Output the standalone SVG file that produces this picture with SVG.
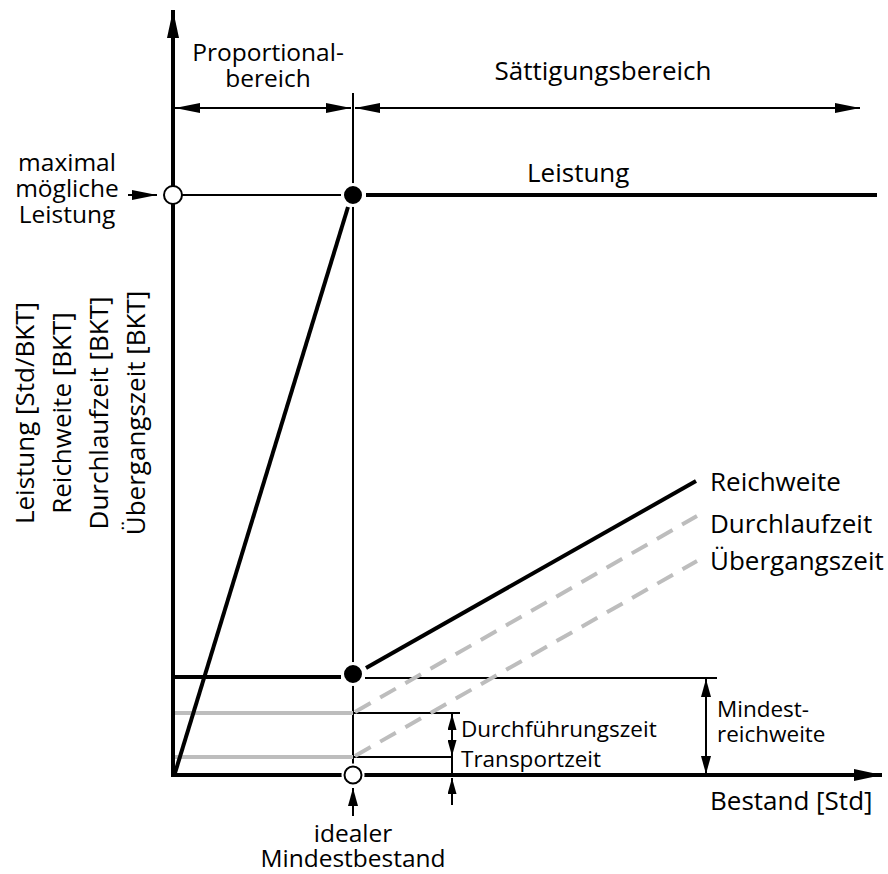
<svg xmlns="http://www.w3.org/2000/svg" width="888" height="874" viewBox="0 0 888 874">
<style>
text{font-family:"Open Sans","Noto Sans",sans-serif;fill:#000}
.big{font-size:26px}
.mid{font-size:24.5px}
.sm{font-size:22.5px}
.thin{stroke:#000;stroke-width:2;fill:none}
.thick{stroke:#000;stroke-width:4;fill:none}
.gray{stroke:#bdbdbd;stroke-width:4;fill:none}
.dash{stroke:#bdbdbd;stroke-width:4;fill:none;stroke-dasharray:18 11}
</style>
<defs>
<marker id="ax" markerUnits="userSpaceOnUse" viewBox="0 0 28 12" markerWidth="28" markerHeight="12" refX="28" refY="6" orient="auto-start-reverse"><path d="M0,0 L28,6 L0,12 z"/></marker>
<marker id="sl" markerUnits="userSpaceOnUse" viewBox="0 0 25 10" markerWidth="25" markerHeight="10" refX="25" refY="5" orient="auto-start-reverse"><path d="M0,0 L25,5 L0,10 z"/></marker>
<marker id="dm" markerUnits="userSpaceOnUse" viewBox="0 0 18 10" markerWidth="18" markerHeight="10" refX="18" refY="5" orient="auto-start-reverse"><path d="M0,0 L18,5 L0,10 z"/></marker>
<marker id="ds" markerUnits="userSpaceOnUse" viewBox="0 0 16 9" markerWidth="16" markerHeight="9" refX="16" refY="4.5" orient="auto-start-reverse"><path d="M0,0 L16,4.5 L0,9 z"/></marker>
</defs>

<g id="connectors">
<line class="thin" x1="353" y1="93" x2="353" y2="775"/>
<line class="thin" x1="173" y1="195" x2="341" y2="195"/>
<line class="thin" x1="365" y1="678" x2="717" y2="678"/>
<line class="thin" x1="353" y1="713" x2="460" y2="713"/>
<line class="thin" x1="353" y1="757" x2="452" y2="757"/>
<line class="gray" x1="173" y1="713" x2="353" y2="713"/>
<line class="gray" x1="173" y1="757" x2="353" y2="757"/>
<line class="dash" x1="355" y1="712" x2="697" y2="516"/>
<line class="dash" x1="355" y1="756" x2="697" y2="561"/>
<line class="thick" x1="366" y1="195" x2="877" y2="195"/>
<line class="thick" x1="175" y1="773" x2="348" y2="207"/>
<line class="thick" x1="173" y1="677" x2="341" y2="677"/>
<line class="thick" x1="366" y1="668" x2="696" y2="481"/>
<line class="thick" x1="173" y1="777" x2="173" y2="10" marker-end="url(#ax)"/>
<line class="thick" x1="171" y1="775" x2="882" y2="775" marker-end="url(#ax)"/>
<line class="thin" x1="175" y1="108" x2="351" y2="108" marker-start="url(#sl)" marker-end="url(#sl)"/>
<line class="thin" x1="355" y1="108" x2="860" y2="108" marker-start="url(#sl)" marker-end="url(#sl)"/>
<line class="thin" x1="128" y1="195" x2="157" y2="195" marker-end="url(#sl)"/>
<line class="thin" x1="353" y1="816" x2="353" y2="788" marker-end="url(#dm)"/>
<line class="thin" x1="706" y1="679" x2="706" y2="774" marker-start="url(#dm)" marker-end="url(#dm)"/>
<line class="thin" x1="452" y1="714" x2="452" y2="756" marker-start="url(#ds)" marker-end="url(#ds)"/>
<line class="thin" x1="452" y1="756" x2="452" y2="775"/>
<line class="thin" x1="452" y1="805" x2="452" y2="778" marker-end="url(#ds)"/>
</g>

<g id="point-max-open">
<circle cx="173" cy="195" r="9" fill="#fff" stroke="#000" stroke-width="2"/>
</g>
<g id="point-max-filled">
<circle cx="353" cy="195" r="10.5" fill="#000" stroke="#fff" stroke-width="3"/>
</g>
<g id="point-min-filled">
<circle cx="353" cy="674" r="10.5" fill="#000" stroke="#fff" stroke-width="3"/>
</g>
<g id="point-ideal">
<circle cx="353" cy="775" r="11.5" fill="#fff"/>
<circle cx="353" cy="775" r="8.5" fill="#fff" stroke="#000" stroke-width="2"/>
</g>

<g id="labels">
<text class="mid" x="268" y="61" text-anchor="middle">Proportional-</text>
<text class="mid" x="268" y="87" text-anchor="middle">bereich</text>
<text class="big" x="603" y="80" text-anchor="middle">Sättigungsbereich</text>
<text class="big" x="527" y="182">Leistung</text>
<text class="mid" x="67" y="171" text-anchor="middle">maximal</text>
<text class="mid" x="67" y="197" text-anchor="middle">mögliche</text>
<text class="mid" x="67" y="223" text-anchor="middle">Leistung</text>
<text class="big" transform="translate(34,413) rotate(-90)" text-anchor="middle">Leistung [Std/BKT]</text>
<text class="big" transform="translate(71,413) rotate(-90)" text-anchor="middle">Reichweite [BKT]</text>
<text class="big" transform="translate(108,413) rotate(-90)" text-anchor="middle">Durchlaufzeit [BKT]</text>
<text class="big" transform="translate(145,413) rotate(-90)" text-anchor="middle">Übergangszeit [BKT]</text>
<text class="big" x="710" y="491">Reichweite</text>
<text class="big" x="710" y="533">Durchlaufzeit</text>
<text class="big" x="710" y="570">Übergangszeit</text>
<text class="sm" x="717" y="717">Mindest-</text>
<text class="sm" x="717" y="742">reichweite</text>
<text class="sm" x="461" y="737">Durchführungszeit</text>
<text class="sm" x="461" y="767">Transportzeit</text>
<text class="big" x="710" y="810">Bestand [Std]</text>
<text class="mid" x="353" y="842" text-anchor="middle">idealer</text>
<text class="mid" x="353" y="867" text-anchor="middle">Mindestbestand</text>
</g>
</svg>
